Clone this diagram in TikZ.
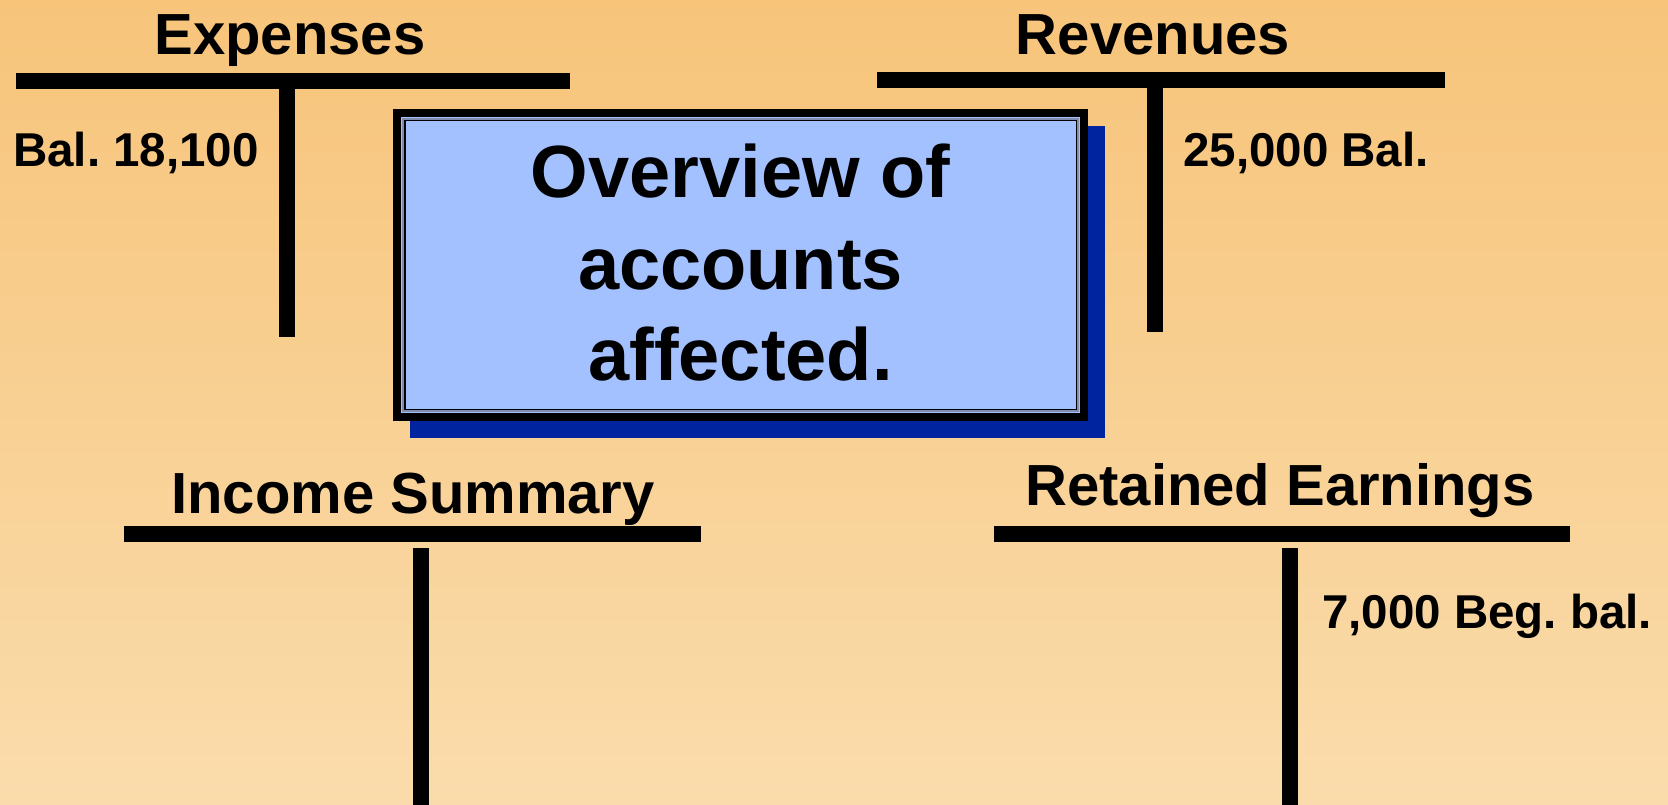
\documentclass[tikz,border=0pt]{standalone}
\usepackage{fontspec}
\setmainfont{Liberation Sans}
\frenchspacing
\definecolor{bgtop}{RGB}{247,196,122}
\definecolor{bgbot}{RGB}{250,220,172}
\definecolor{boxfill}{RGB}{163,192,255}
\definecolor{shadowblue}{RGB}{0,35,160}
\definecolor{innergray}{RGB}{128,140,176}
\tikzset{
  head/.style={anchor=base, inner sep=0pt, font=\fontsize{58}{60}\selectfont\bfseries},
  amount/.style={anchor=base, inner sep=0pt, font=\fontsize{47.5}{50}\selectfont\bfseries},
  boxtext/.style={anchor=base, inner sep=0pt, font=\fontsize{74}{80}\selectfont\bfseries},
  tbar/.style={line width=16pt, black},
}
\begin{document}
\frenchspacing
\begin{tikzpicture}[x=1pt,y=-1pt]
\useasboundingbox (0,0) rectangle (1668,805);
\shade[top color=bgtop, bottom color=bgbot] (0,0) rectangle (1668,805);

% Expenses T-account
\draw[tbar] (16,81) -- (570,81);
\draw[tbar] (287,81) -- (287,337);
\node[head] (exp) at (290,55) {Expenses};
\node[amount, anchor=base west] (expbal) at (13,167) {Bal. 18,100};

% Revenues T-account
\draw[tbar] (877,80.5) -- (1445,80.5);
\draw[tbar] (1154.5,80.5) -- (1154.5,332);
\node[head] (rev) at (1153,55) {Revenues};
\node[amount, anchor=base west] (revbal) at (1183,167) {25,000 Bal.};

% Income Summary T-account
\draw[tbar] (124,533.5) -- (701,533.5);
\draw[tbar] (421,548) -- (421,805);
\node[head] (inc) at (413,513) {Income Summary};

% Retained Earnings T-account
\draw[tbar] (994,534) -- (1570,534);
\draw[tbar] (1290,548) -- (1290,805);
\node[head] (ret) at (1280,505) {Retained Earnings};
\node[amount, anchor=base west] (retbal) at (1322,628) {7,000 Beg. bal.};

% Overview box with shadow
\fill[shadowblue] (410,126) rectangle (1105,438);
\fill[boxfill] (393,109) rectangle (1088,421);
\draw[black, line width=8pt] (397,113) rectangle (1084,417);
\draw[innergray, line width=2pt] (403,119) rectangle (1078,411);
\draw[black, line width=1.5pt] (404.75,120.75) rectangle (1076.25,409.25);
\node[boxtext] (t1) at (740.5,198) {Overview of};
\node[boxtext] (t2) at (740.5,289) {accounts};
\node[boxtext] (t3) at (740.5,380) {affected.};
\end{tikzpicture}
\end{document}
